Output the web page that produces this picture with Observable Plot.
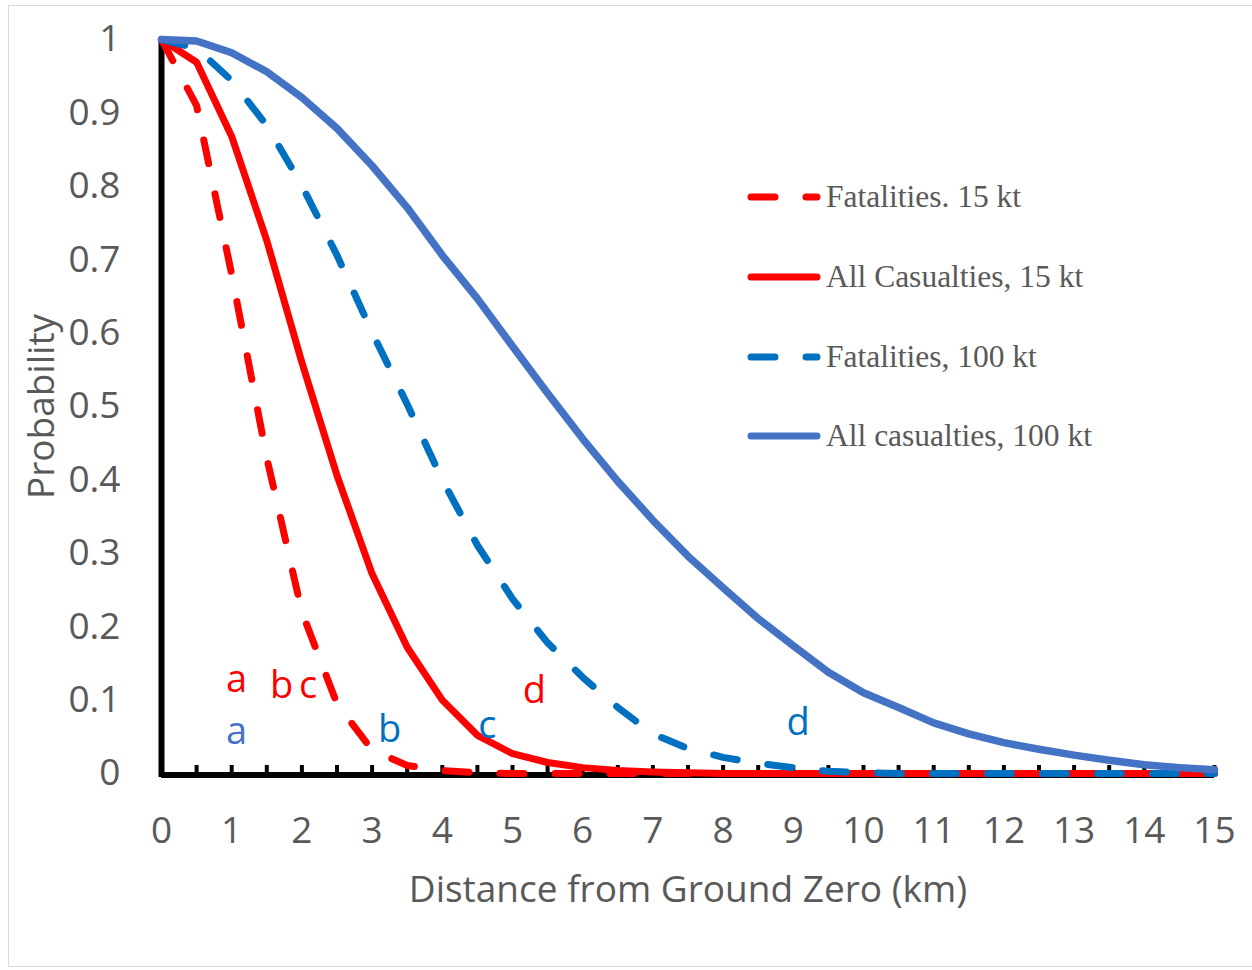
<!DOCTYPE html>
<html><head><meta charset="utf-8">
<script src="https://cdn.jsdelivr.net/npm/d3@7"></script>
<script src="https://cdn.jsdelivr.net/npm/@observablehq/plot@0.6"></script>
<style>
body{margin:0;background:#fff;}
#wrap{position:relative;width:1252px;height:970px;overflow:hidden;}
#frame{position:absolute;left:8px;top:5px;width:1250px;height:962px;border:1px solid #d9d9d9;box-sizing:border-box;pointer-events:none;}
#wrap svg.plot{position:absolute;left:0;top:0;}
#legend{position:absolute;left:0;top:0;pointer-events:none;}
</style></head>
<body><div id="wrap"><div id="frame"></div></div>
<script>
// Distance from ground zero (km)
const distance = [0,0.5,1,1.5,2,2.5,3,3.5,4,4.5,5,5.5,6,6.5,7,7.5,8,8.5,9,9.5,10,10.5,11,11.5,12,12.5,13,13.5,14,14.5,15];
// Probability series
const fatalities15 = [1,0.91,0.68,0.43,0.22,0.095,0.032,0.011,0.004,0.001,0,0,0,0,0,0,0,0,0,0,0,0,0,0,0,0,0,0,0,0,0];
const casualties15 = [1,0.969,0.868,0.726,0.56,0.406,0.272,0.172,0.1,0.052,0.027,0.015,0.008,0.004,0.002,0.001,0,0,0,0,0,0,0,0,0,0,0,0,0,0,0];
const fatalities100 = [1,0.988,0.944,0.883,0.801,0.706,0.601,0.503,0.4,0.311,0.238,0.178,0.131,0.09,0.054,0.034,0.022,0.014,0.008,0.003,0.001,0,0,0,0,0,0,0,0,0,0];
const casualties100 = [1,0.998,0.982,0.956,0.921,0.879,0.828,0.771,0.706,0.647,0.582,0.518,0.456,0.398,0.345,0.296,0.253,0.211,0.174,0.138,0.11,0.09,0.069,0.054,0.042,0.033,0.025,0.018,0.012,0.008,0.005];

const seriesNames = ["Fatalities. 15 kt","All Casualties, 15 kt","Fatalities, 100 kt","All casualties, 100 kt"];
const seriesValues = [fatalities15, casualties15, fatalities100, casualties100];
const seriesColors = ["#FF0000","#FF0000","#0070C0","#4472C4"];
const seriesDashed = [true,false,true,false];

// Annotation letters
const noteLetters = ["a","b","c","d","a","b","c","d"];
const noteX = [1.07,1.71,2.09,5.31,1.07,3.25,4.64,9.07];
const noteY = [0.127,0.12,0.119,0.113,0.057,0.06,0.065,0.069];
const noteColors = ["#FF0000","#FF0000","#FF0000","#FF0000","#4472C4","#0070C0","#0070C0","#0070C0"];

const xTicks = [0,1,2,3,4,5,6,7,8,9,10,11,12,13,14,15];
const xMinorTicks = [0.5,1,1.5,2,2.5,3,3.5,4,4.5,5,5.5,6,6.5,7,7.5,8,8.5,9,9.5,10,10.5,11,11.5,12,12.5,13,13.5,14,14.5,15];
const yTicks = [0,0.1,0.2,0.3,0.4,0.5,0.6,0.7,0.8,0.9,1];

const xTitle = "Distance from Ground Zero (km)";
const yTitle = "Probability";

const DASH = "24,31";
const textGray = "#595959";

const rows = [];
seriesNames.forEach((name, s) => distance.forEach((d, i) => rows.push({series: name, s, x: d, p: seriesValues[s][i]})));
const notes = noteLetters.map((t, i) => ({t, x: noteX[i], y: noteY[i], c: noteColors[i]}));

const lineMarks = seriesNames.map((name, s) => Plot.line(rows.filter(r => r.s === s), {
  x: "x", y: "p", stroke: seriesColors[s], strokeWidth: s === 3 ? 7.5 : 7,
  strokeDasharray: seriesDashed[s] ? DASH : null, strokeLinecap: "round", strokeLinejoin: "round"
}));

const chart = Plot.plot({
  width: 1252, height: 970,
  marginLeft: 161, marginRight: 38, marginTop: 39, marginBottom: 197,
  style: {fontFamily: "'Open Sans', sans-serif", background: "transparent", overflow: "visible"},
  x: {domain: [0, 15]},
  y: {domain: [0, 1]},
  color: {type: "identity"},
  marks: [
    Plot.ruleX([0], {stroke: "black", strokeWidth: 6, insetBottom: -4, shapeRendering: "auto"}),
    Plot.ruleY([0], {stroke: "black", strokeWidth: 6, dy: 1.5, shapeRendering: "auto"}),
    Plot.ruleX(xMinorTicks, {x: d => d, y1: 0, y2: 0, insetBottom: 8, stroke: "black", strokeWidth: 4}),
    ...lineMarks,
    Plot.text(notes, {x: "x", y: "y", text: "t", fill: "c", fontSize: 38, textAnchor: "middle"}),
    Plot.axisY({ticks: yTicks, tickSize: 0, tickPadding: 41, fontSize: 37, color: textGray, label: null,
      tickFormat: d => String(+d.toFixed(1))}),
    Plot.axisX({ticks: xTicks, tickSize: 0, tickPadding: 43, fontSize: 37, color: textGray, label: null,
      tickFormat: d => String(d)}),
    Plot.text([yTitle], {frameAnchor: "left", dx: -119, rotate: -90, fontSize: 37, fill: textGray, textAnchor: "middle"}),
    Plot.text([xTitle], {frameAnchor: "bottom", dy: 128, fontSize: 37, fill: textGray, textAnchor: "middle"})
  ]
});
document.getElementById("wrap").appendChild(chart);

// Legend (SVG overlay)
const legendY = [197, 277, 357, 436];
const ns = "http://www.w3.org/2000/svg";
const lg = document.createElementNS(ns, "svg");
lg.setAttribute("id", "legend");
lg.setAttribute("width", 1252);
lg.setAttribute("height", 970);
seriesNames.forEach((name, s) => {
  const y = legendY[s];
  const ln = document.createElementNS(ns, "line");
  ln.setAttribute("x1", 751); ln.setAttribute("x2", 817);
  ln.setAttribute("y1", y); ln.setAttribute("y2", y);
  ln.setAttribute("stroke", seriesColors[s]);
  ln.setAttribute("stroke-width", 7);
  ln.setAttribute("stroke-linecap", "round");
  if (seriesDashed[s]) ln.setAttribute("stroke-dasharray", DASH);
  lg.appendChild(ln);
  const tx = document.createElementNS(ns, "text");
  tx.setAttribute("x", 826); tx.setAttribute("y", y + 10);
  tx.setAttribute("fill", textGray);
  tx.setAttribute("font-family", "'Liberation Serif', 'Times New Roman', serif");
  tx.setAttribute("font-size", 31.5);
  tx.textContent = name;
  lg.appendChild(tx);
});
document.getElementById("wrap").appendChild(lg);
</script>
</body></html>
